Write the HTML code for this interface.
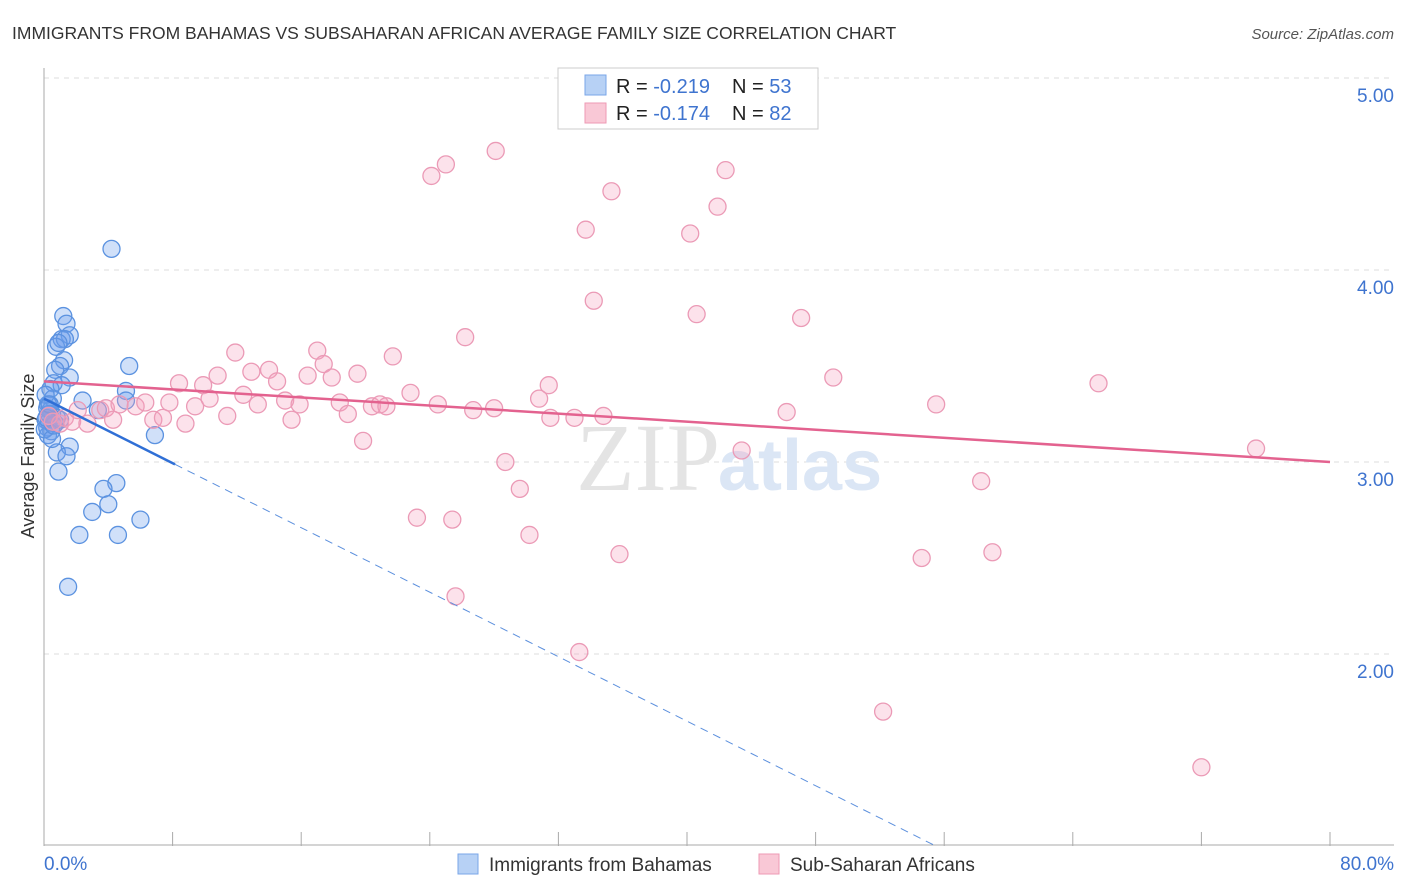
<!DOCTYPE html>
<html><head><meta charset="utf-8"><style>
body{margin:0;background:#fff;font-family:"Liberation Sans",sans-serif;}
svg{display:block}
</style></head><body>
<svg id="chart" width="1406" height="892">
<text x="12" y="39" font-size="17.5" fill="#333">IMMIGRANTS FROM BAHAMAS VS SUBSAHARAN AFRICAN AVERAGE FAMILY SIZE CORRELATION CHART</text>
<text x="1394" y="39" font-size="15" fill="#555" font-style="italic" text-anchor="end">Source: ZipAtlas.com</text>
<g id="grid"></g>
<text x="720" y="490" font-size="96" fill="#e4e4e4" text-anchor="end" font-family="Liberation Serif,serif">ZIP</text>
<text x="718" y="490" font-size="72" fill="#dbe6f5" font-weight="bold">atlas</text>
<text transform="translate(34,456) rotate(-90)" font-size="18" fill="#333" text-anchor="middle">Average Family Size</text>
<g id="marks"></g>
<g>
<rect x="558" y="68" width="260" height="61" fill="#fff" stroke="#ccc"/>
<rect x="585" y="75" width="21" height="20" fill="#b7d1f5" stroke="#7aa6e8"/>
<rect x="585" y="103" width="21" height="20" fill="#f9c8d6" stroke="#ee9ab4"/>
<text x="616" y="93" font-size="20" fill="#222">R = <tspan fill="#3f74cf">-0.219</tspan></text>
<text x="732" y="93" font-size="20" fill="#222">N = <tspan fill="#3f74cf">53</tspan></text>
<text x="616" y="120" font-size="20" fill="#222">R = <tspan fill="#3f74cf">-0.174</tspan></text>
<text x="732" y="120" font-size="20" fill="#222">N = <tspan fill="#3f74cf">82</tspan></text>
</g>
<g>
<rect x="458" y="854" width="20" height="20" fill="#b7d1f5" stroke="#7aa6e8"/>
<text x="489" y="871" font-size="19" fill="#333">Immigrants from Bahamas</text>
<rect x="759" y="854" width="20" height="20" fill="#f9c8d6" stroke="#ee9ab4"/>
<text x="790" y="871" font-size="19" fill="#333">Sub-Saharan Africans</text>
</g>
<text x="44" y="870" font-size="19" fill="#3f74cf">0.0%</text>
<text x="1394" y="870" font-size="19" fill="#3f74cf" text-anchor="end">80.0%</text>
</svg>
<script>
const yTicks=[2,3,4,5];
const yTickLabels=["2.00","3.00","4.00","5.00"];
const blueX=[4.2,1.2,1.4,1.6,1.1,1.3,0.75,1.25,1.0,0.7,1.6,0.6,1.1,0.4,2.4,5.3,5.1,5.1,0.55,0.25,0.4,0.5,0.8,0.3,0.2,0.45,0.7,0.25,6.9,1.6,0.8,1.4,0.9,4.5,3.7,4.0,3.0,6.0,2.2,4.6,1.5,0.1,0.1,0.05,0.2,0.5,1.0,3.35,0.9,0.3,0.6,0.15,0.35];
const blueY=[4.11,3.76,3.72,3.66,3.64,3.64,3.60,3.53,3.50,3.48,3.44,3.41,3.40,3.38,3.32,3.50,3.37,3.32,3.33,3.30,3.27,3.25,3.23,3.21,3.18,3.16,3.20,3.14,3.14,3.08,3.05,3.03,2.95,2.89,2.86,2.78,2.74,2.70,2.62,2.62,2.35,3.35,3.22,3.17,3.28,3.12,3.22,3.27,3.62,3.25,3.19,3.23,3.30];
const pinkX=[0.3,0.55,1.0,1.3,1.75,2.1,2.7,3.5,3.85,4.3,4.7,5.7,6.3,6.8,7.4,7.8,8.4,8.8,9.4,9.9,10.3,10.8,11.4,11.9,12.4,12.9,13.3,14.0,14.5,15.0,15.4,15.9,16.4,17.0,17.4,17.9,18.4,18.9,19.5,19.85,20.4,20.9,21.3,21.7,22.8,23.2,24.1,24.5,25.0,25.4,25.6,26.2,28.0,28.1,28.7,29.6,30.2,31.4,30.8,33.0,33.7,34.2,34.8,35.3,35.8,33.3,40.2,40.6,41.9,42.4,43.4,46.2,47.1,49.1,52.2,54.6,55.5,58.3,59.0,65.6,72.0,75.4,31.5,26.7];
const pinkY=[3.24,3.21,3.20,3.23,3.21,3.27,3.20,3.27,3.28,3.22,3.30,3.29,3.31,3.22,3.23,3.31,3.41,3.20,3.29,3.40,3.33,3.45,3.24,3.57,3.35,3.47,3.30,3.48,3.42,3.32,3.22,3.30,3.45,3.58,3.51,3.44,3.31,3.25,3.46,3.11,3.29,3.30,3.29,3.55,3.36,2.71,4.49,3.30,4.55,2.70,2.30,3.65,3.28,4.62,3.00,2.86,2.62,3.40,3.33,3.23,4.21,3.84,3.24,4.41,2.52,2.01,4.19,3.77,4.33,4.52,3.06,3.26,3.75,3.44,1.70,2.50,3.30,2.90,2.53,3.41,1.41,3.07,3.23,3.27];
const blueTrend=[3.33,-0.042];
const pinkTrend=[3.42,-0.00525];
const X0=44,X1=1330,XMAX=80;
const sx=v=>X0+(X1-X0)*v/XMAX;
const sy=v=>846-(v-1)*192;
const NS="http://www.w3.org/2000/svg";
function mk(tag,attrs,parent){const e=document.createElementNS(NS,tag);for(const k in attrs)e.setAttribute(k,attrs[k]);parent.appendChild(e);return e;}
const grid=document.getElementById('grid');
const marks=document.getElementById('marks');
yTicks.forEach((t,i)=>{
 const l=mk('line',{x1:X0,x2:1394,y1:sy(t),y2:sy(t),stroke:'#ddd','stroke-dasharray':'5,5'},grid);
 
 
 const tx=mk('text',{x:1394,y:sy(t)+24,'font-size':19,fill:'#3f74cf','text-anchor':'end'},grid);
 tx.textContent=yTickLabels[i];
 
 
});
const ax=mk('line',{x1:X0,x2:X0,y1:68,y2:846,stroke:'#aaa'},grid);


const bx=mk('line',{x1:X0,x2:1394,y1:845,y2:845,stroke:'#aaa'},grid);


for(let v=8;v<=80;v+=8){
 const t=mk('line',{x1:sx(v),x2:sx(v),y1:832,y2:846,stroke:'#aaa'},grid);
 
 
}
blueX.forEach((x,i)=>{
 const c=mk('circle',{cx:sx(x),cy:sy(blueY[i]),r:8.5,fill:'rgba(110,160,235,0.32)',stroke:'#5b92e0','stroke-width':1.3},marks);
 
 
});
pinkX.forEach((x,i)=>{
 const c=mk('circle',{cx:sx(x),cy:sy(pinkY[i]),r:8.5,fill:'rgba(245,160,190,0.3)',stroke:'#eb9ab6','stroke-width':1.3},marks);
 
 
});
const bEnd=(1-blueTrend[0])/blueTrend[1];
const bs=mk('line',{x1:sx(0),y1:sy(blueTrend[0]),x2:sx(8.15),y2:sy(blueTrend[0]+blueTrend[1]*8.15),stroke:'#2f6fd6','stroke-width':2.5},marks);


const bd=mk('line',{x1:sx(8.15),y1:sy(blueTrend[0]+blueTrend[1]*8.15),x2:sx(bEnd),y2:sy(1),stroke:'#5b8fdd','stroke-width':1,'stroke-dasharray':'8,6'},marks);


const pt=mk('line',{x1:sx(0),y1:sy(pinkTrend[0]),x2:sx(80),y2:sy(pinkTrend[0]+pinkTrend[1]*80),stroke:'#e3628f','stroke-width':2.5},marks);


</script>
</body></html>
